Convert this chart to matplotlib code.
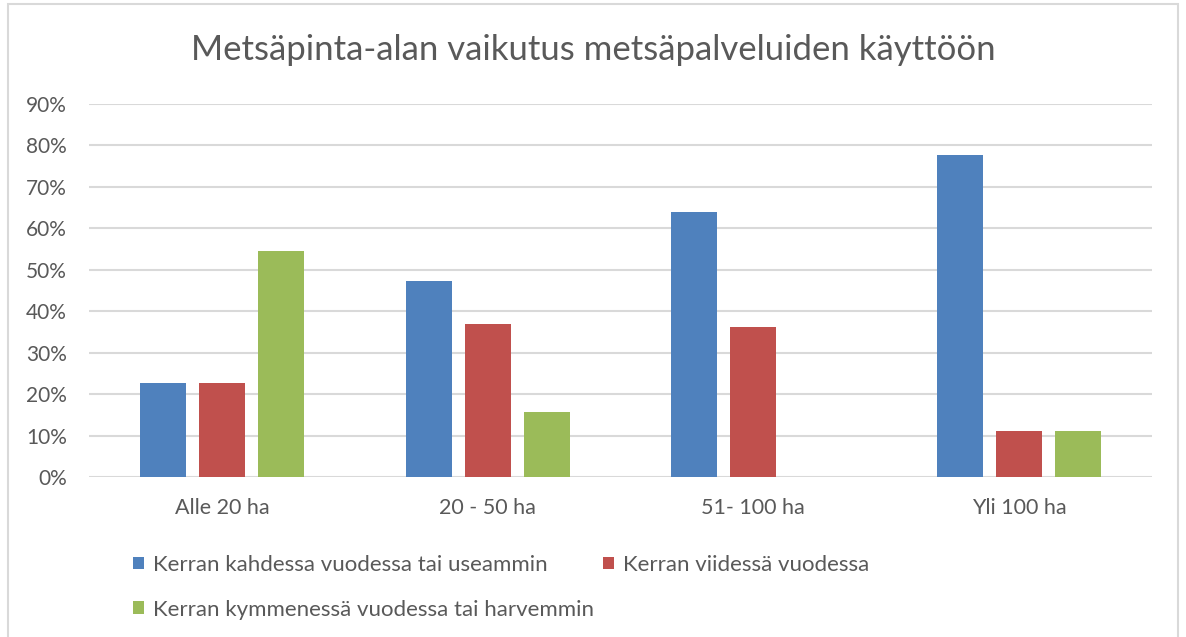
import matplotlib.pyplot as plt
import numpy as np
from matplotlib.patches import Rectangle
from matplotlib.ticker import PercentFormatter

plt.rcParams['font.family'] = ['Lato', 'DejaVu Sans']

categories = ['Alle 20 ha', '20 - 50 ha', '51- 100 ha', 'Yli 100 ha']
series_names = ['Kerran kahdessa vuodessa tai useammin',
                'Kerran viidessä vuodessa',
                'Kerran kymmenessä vuodessa tai harvemmin']
kahdessa = [0.227, 0.472, 0.639, 0.778]
viidessa = [0.227, 0.368, 0.361, 0.111]
kymmenessa = [0.545, 0.158, 0.0, 0.111]
colors = ['#4F81BD', '#C0504D', '#9BBB59']

fig = plt.figure(figsize=(11.86, 6.37), dpi=100)
ax = fig.add_axes([0.075, 0.2512, 0.8963, 0.5855])

# kehys koko kuvan ympärille
fig.patches.append(Rectangle((8 / 1186, -0.01), 1170 / 1186, 1.0 - 4 / 637 + 0.01,
                             transform=fig.transFigure, fill=False,
                             edgecolor='#D9D9D9', linewidth=1.5))

x = np.arange(len(categories))
width = 0.173
step = 0.222
bars = []
for i, (vals, name) in enumerate(zip([kahdessa, viidessa, kymmenessa], series_names)):
    b = ax.bar(x + (i - 1) * step, vals, width, color=colors[i], label=name, zorder=3)
    bars.append(b)

ax.set_xlim(-0.5, len(categories) - 0.5)
ax.set_ylim(0, 0.9)
ax.set_yticks(np.arange(0, 0.91, 0.1))
ax.yaxis.set_major_formatter(PercentFormatter(1.0, decimals=0))
ax.set_xticks(x)
ax.set_xticklabels(categories)
ax.grid(axis='y', color='#D9D9D9', linewidth=1.5, zorder=0)
for s in ax.spines.values():
    s.set_visible(False)
ax.tick_params(axis='both', length=0, colors='#595959')
ax.tick_params(axis='y', pad=16, labelsize=15)
ax.tick_params(axis='x', pad=15, labelsize=15.5)

fig.text(0.5, 0.921, 'Metsäpinta-alan vaikutus metsäpalveluiden käyttöön',
         ha='center', va='center', fontsize=25, color='#595959')

handles = [bars[0], bars[2], bars[1]]
labels = [series_names[0], series_names[2], series_names[1]]
leg = fig.legend(handles, labels, ncol=2, loc='upper left',
                 bbox_to_anchor=(0.112, 0.129), frameon=False,
                 fontsize=16, labelcolor='#595959', handlelength=0.5,
                 handleheight=0.5, handletextpad=0.4, columnspacing=0.4,
                 labelspacing=1.12, borderaxespad=0, borderpad=0)

fig.savefig('out.png', dpi=100)
